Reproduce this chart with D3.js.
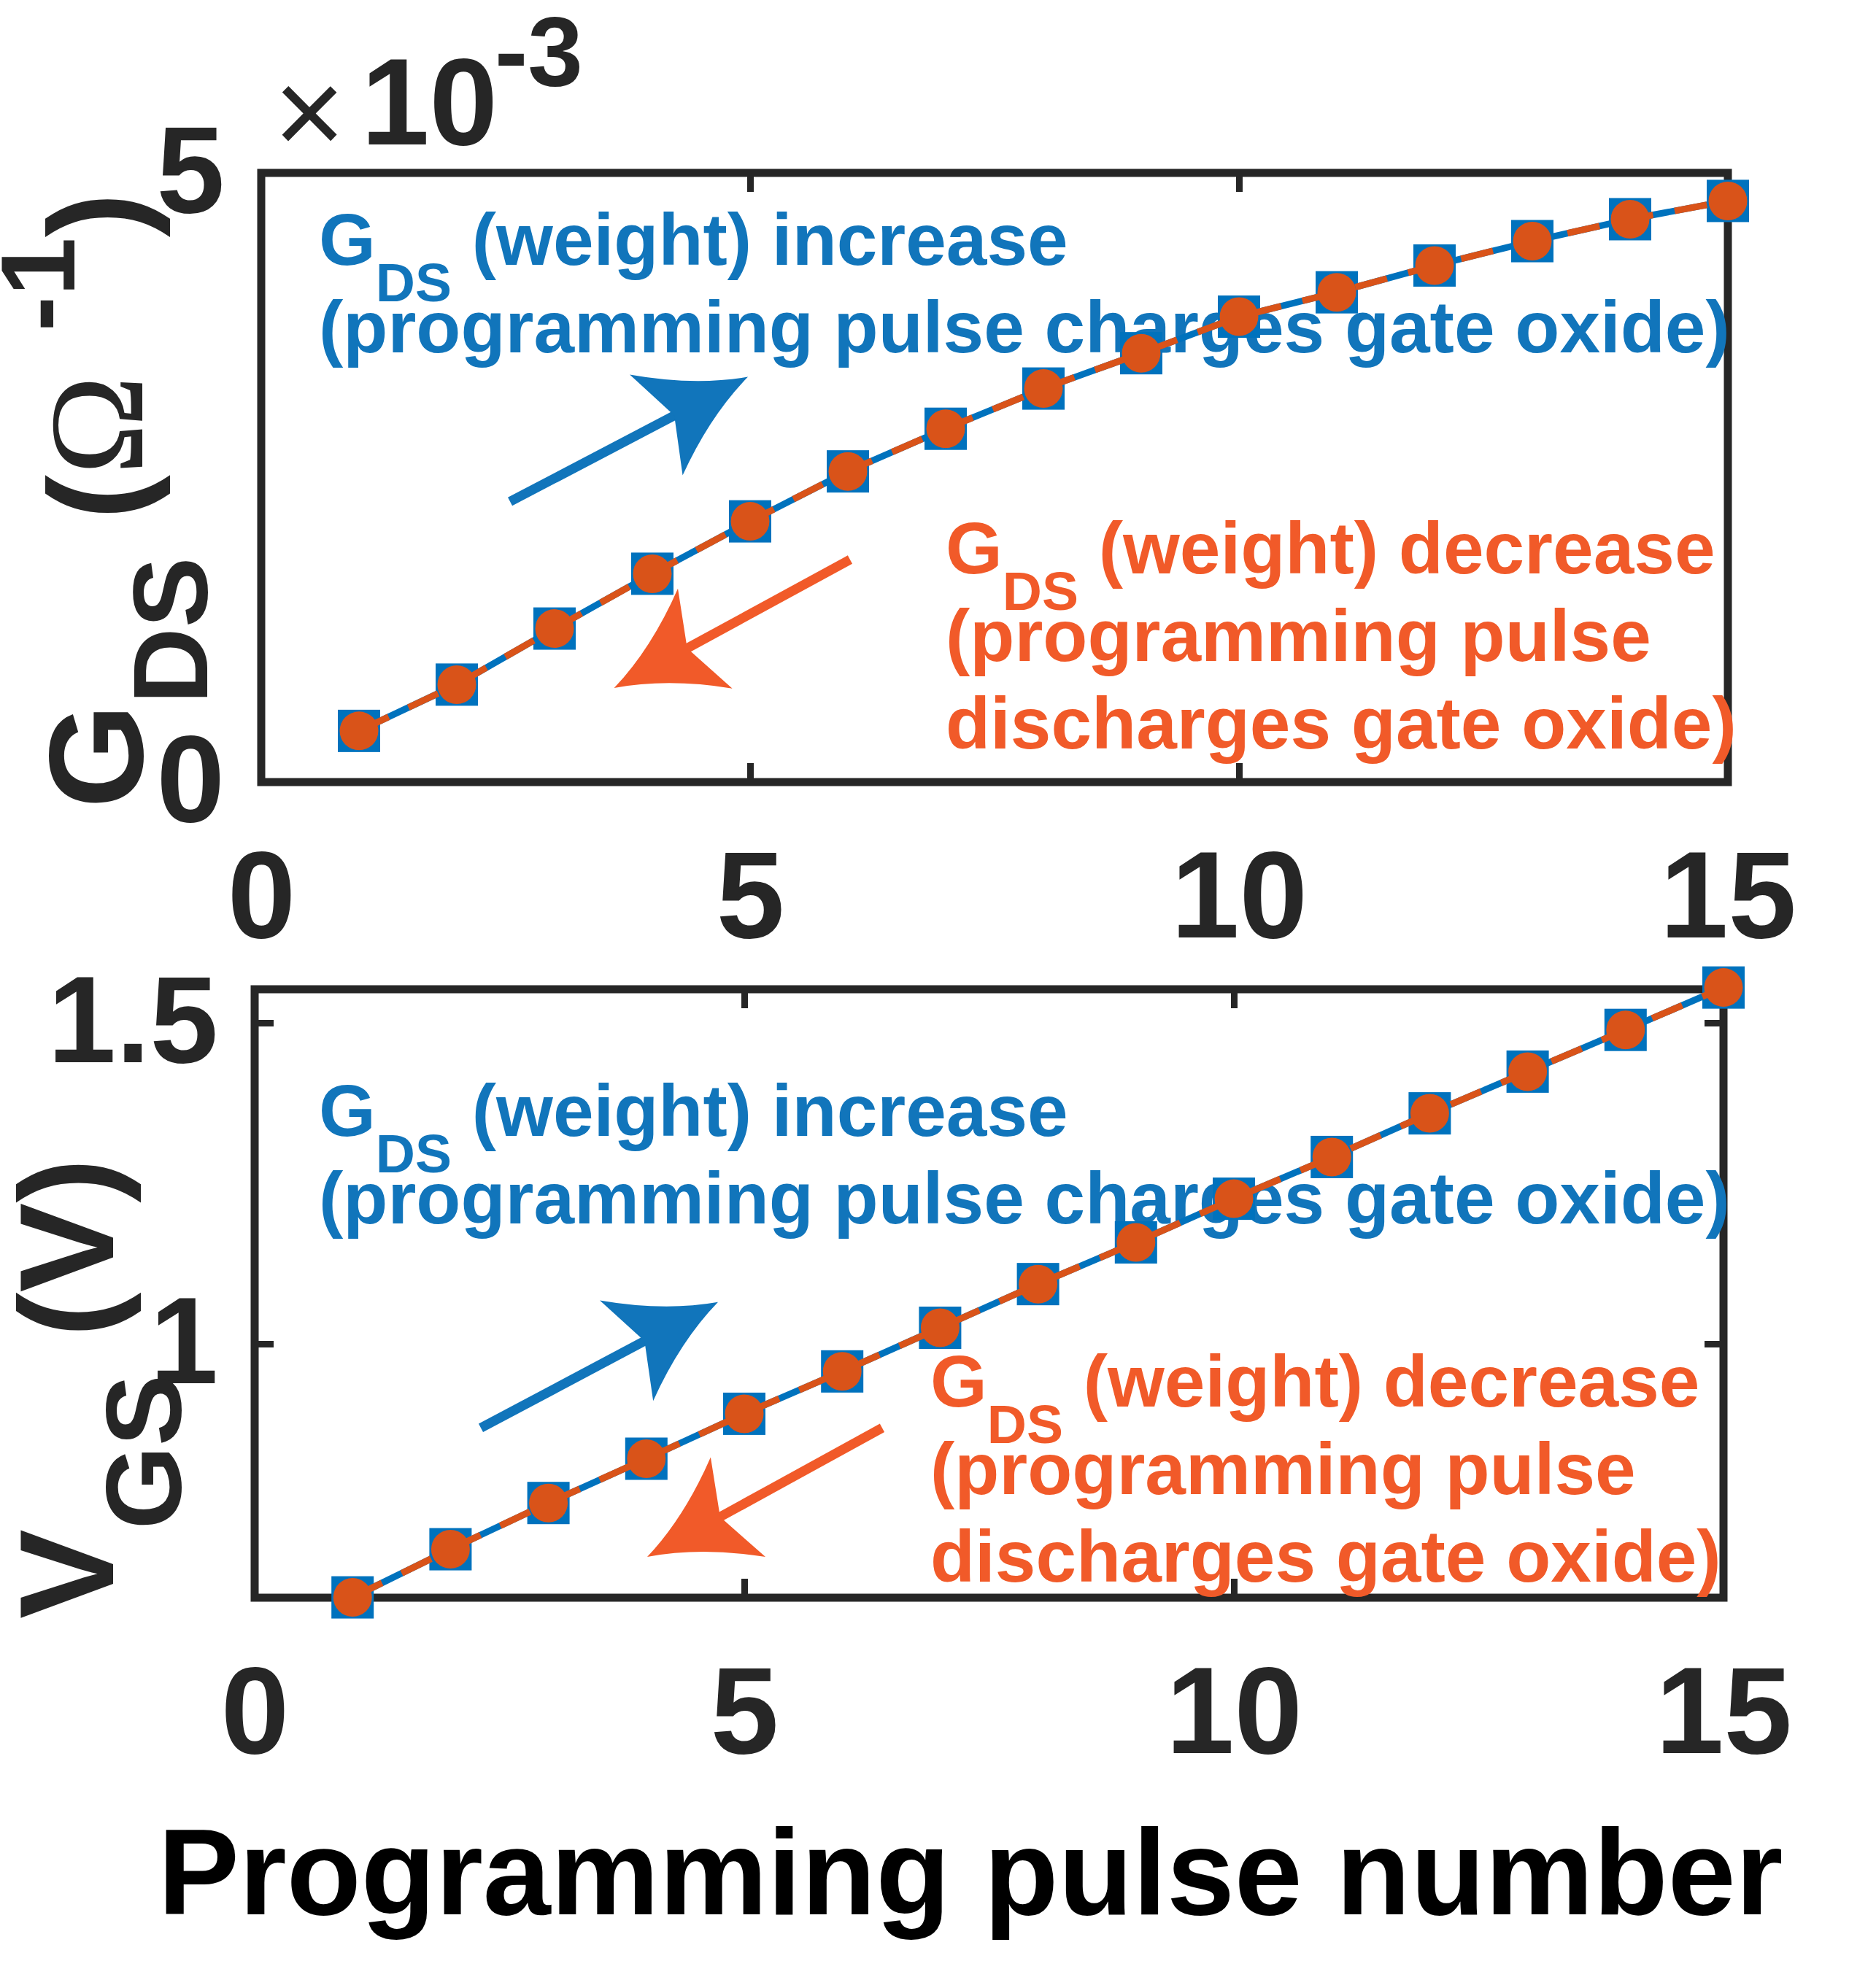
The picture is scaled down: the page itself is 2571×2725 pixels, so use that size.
<!DOCTYPE html>
<html>
<head>
<meta charset="utf-8">
<script src="https://cdn.jsdelivr.net/npm/d3@7"></script>
<style>
  body { margin: 0; background: #fff; }
  text { font-family: "Liberation Sans", Arial, sans-serif; white-space: pre; }
</style>
</head>
<body>
<svg id="chart"></svg>
<script>
// programming pulse number (x axis)
const pulseNumber = [1, 2, 3, 4, 5, 6, 7, 8, 9, 10, 11, 12, 13, 14, 15];
// G_DS in units of 1e-3 S
const gdsIncrease = [0.42, 0.80, 1.26, 1.71, 2.14, 2.55, 2.90, 3.23, 3.52, 3.82, 4.02, 4.24, 4.44, 4.62, 4.77];
const gdsDecrease = [0.42, 0.80, 1.26, 1.71, 2.14, 2.55, 2.90, 3.23, 3.52, 3.82, 4.02, 4.24, 4.44, 4.62, 4.77];
// V_GS in volts
const vgsIncrease = [0.605, 0.680, 0.752, 0.821, 0.891, 0.957, 1.025, 1.093, 1.158, 1.226, 1.291, 1.359, 1.424, 1.489, 1.555];
const vgsDecrease = [0.605, 0.680, 0.752, 0.821, 0.891, 0.957, 1.025, 1.093, 1.158, 1.226, 1.291, 1.359, 1.424, 1.489, 1.555];

const xTicks = [0, 5, 10, 15];
const gdsTicks = [0, 5];
const vgsTicks = [1, 1.5];

const width = 2571, height = 2725;
const blue = "#0072bd", orange = "#d95319";
const textBlue = "#1175bb", textOrange = "#f15a29";
const ink = "#262626";

const svg = d3.select("#chart").attr("width", width).attr("height", height);
svg.append("rect").attr("width", width).attr("height", height).attr("fill", "#fff");

function styleAxis(sel) {
    sel.select(".domain").remove();
    sel.attr("font-size", 168).attr("font-family", "Liberation Sans, Arial, sans-serif")
       .attr("font-weight", "bold");
    sel.selectAll(".tick line").attr("stroke", ink).attr("stroke-width", 9);
    sel.selectAll(".tick text").attr("fill", ink);
}

function drawArrow(g, x0, y0, x1, y1, color) {
    const dx = x1 - x0, dy = y1 - y0, len = Math.hypot(dx, dy);
    const ux = dx / len, uy = dy / len, nx = -uy, ny = ux;
    const back = 142, half = 78, notch = 114, bend = 16;
    const w1 = [x1 - back * ux + half * nx, y1 - back * uy + half * ny];
    const w2 = [x1 - back * ux - half * nx, y1 - back * uy - half * ny];
    const nt = [x1 - notch * ux, y1 - notch * uy];
    const c1 = [x1 - back / 2 * ux + (half / 2 - bend) * nx, y1 - back / 2 * uy + (half / 2 - bend) * ny];
    const c2 = [x1 - back / 2 * ux - (half / 2 - bend) * nx, y1 - back / 2 * uy - (half / 2 - bend) * ny];
    g.append("line")
        .attr("x1", x0).attr("y1", y0).attr("x2", nt[0] + 4 * ux).attr("y2", nt[1] + 4 * uy)
        .attr("stroke", color).attr("stroke-width", 13);
    const path = d3.path();
    path.moveTo(x1, y1);
    path.quadraticCurveTo(c1[0], c1[1], w1[0], w1[1]);
    path.lineTo(nt[0], nt[1]);
    path.lineTo(w2[0], w2[1]);
    path.quadraticCurveTo(c2[0], c2[1], x1, y1);
    path.closePath();
    g.append("path").attr("d", path.toString()).attr("fill", color);
}

function drawNote(g, px, py, color, first, rest) {
    const t = g.append("text").attr("fill", color).attr("font-size", 100).attr("font-weight", "bold");
    t.append("tspan").attr("x", px).attr("y", py).text("G");
    t.append("tspan").attr("font-size", 75).attr("dy", 50).text("DS");
    t.append("tspan").attr("dy", -50).text(" " + first);
    rest.forEach((s, i) => {
        g.append("text").attr("fill", color).attr("font-size", 100).attr("font-weight", "bold")
            .attr("x", px).attr("y", py + 120 * (i + 1)).text(s);
    });
}

function drawPanel(p) {
    const x = d3.scaleLinear().domain([0, 15]).range([p.left, p.right]);
    const y = d3.scaleLinear().domain(p.yDomain).range([p.bottom, p.top]);
    const g = svg.append("g");
    const tick = 26;

    g.append("g").attr("transform", `translate(0,${p.bottom})`)
        .call(d3.axisBottom(x).tickValues(xTicks).tickSize(-tick).tickSizeOuter(0).tickPadding(94).tickFormat(d => String(d)))
        .call(styleAxis);
    g.append("g").attr("transform", `translate(0,${p.top})`)
        .call(d3.axisTop(x).tickValues(xTicks).tickSize(-tick).tickSizeOuter(0).tickFormat(""))
        .call(styleAxis);
    g.append("g").attr("transform", `translate(${p.left},0)`)
        .call(d3.axisLeft(y).tickValues(p.yTicks).tickSize(-tick).tickSizeOuter(0).tickPadding(50).tickFormat(p.yFormat))
        .call(styleAxis);
    g.append("g").attr("transform", `translate(${p.right},0)`)
        .call(d3.axisRight(y).tickValues(p.yTicks).tickSize(-tick).tickSizeOuter(0).tickFormat(""))
        .call(styleAxis);

    g.append("rect")
        .attr("x", p.left).attr("y", p.top)
        .attr("width", p.right - p.left).attr("height", p.bottom - p.top)
        .attr("fill", "none").attr("stroke", ink).attr("stroke-width", 11);

    // annotations
    drawNote(g, x(p.noteUp.x), y(p.noteUp.y), textBlue, "(weight) increase", p.noteUp.rest);
    drawNote(g, x(p.noteDown.x), y(p.noteDown.y), textOrange, "(weight) decrease", p.noteDown.rest);
    drawArrow(g, x(p.arrowUp[0]), y(p.arrowUp[1]), x(p.arrowUp[2]), y(p.arrowUp[3]), textBlue);
    drawArrow(g, x(p.arrowDown[0]), y(p.arrowDown[1]), x(p.arrowDown[2]), y(p.arrowDown[3]), textOrange);

    const line = d3.line().x((d, i) => x(pulseNumber[i])).y(d => y(d));

    g.append("path").datum(p.up)
        .attr("d", line).attr("fill", "none").attr("stroke", blue).attr("stroke-width", 9);
    g.selectAll(null).data(p.up).enter().append("rect")
        .attr("x", (d, i) => x(pulseNumber[i]) - 29).attr("y", d => y(d) - 29)
        .attr("width", 58).attr("height", 58).attr("fill", blue);

    g.append("path").datum(p.down)
        .attr("d", line).attr("fill", "none").attr("stroke", orange).attr("stroke-width", 9)
        .attr("stroke-dasharray", "45,30");
    g.selectAll(null).data(p.down).enter().append("circle")
        .attr("cx", (d, i) => x(pulseNumber[i])).attr("cy", d => y(d))
        .attr("r", 26.5).attr("fill", orange);
}

function rotatedLabel(x0, y0, parts) {
    const t = svg.append("text")
        .attr("transform", `translate(${x0},${y0}) rotate(-90)`)
        .attr("fill", ink).attr("font-weight", "bold");
    parts.forEach(pt => {
        const s = t.append("tspan").attr("font-size", pt.size).attr("dy", pt.dy || 0).text(pt.text);
        if (pt.serif) s.attr("font-family", "Liberation Serif, Times New Roman, serif").attr("font-weight", "normal");
        if (pt.dx) s.attr("dx", pt.dx);
    });
}

drawPanel({
    left: 358, right: 2368, top: 237, bottom: 1072,
    yDomain: [0, 5], yTicks: gdsTicks, yFormat: d => String(d),
    up: gdsIncrease, down: gdsDecrease,
    noteUp: { x: 0.59, y: 4.246, rest: ["(programming pulse charges gate oxide)"] },
    noteDown: { x: 7.0, y: 1.713, rest: ["(programming pulse", "discharges gate oxide)"] },
    arrowUp: [2.545, 2.302, 4.978, 3.326],
    arrowDown: [6.022, 1.826, 3.609, 0.772]
});

drawPanel({
    left: 349, right: 2362, top: 1356, bottom: 2190,
    yDomain: [0.6045, 1.5523], yTicks: vgsTicks, yFormat: d => String(d),
    up: vgsIncrease, down: vgsDecrease,
    noteUp: { x: 0.656, y: 1.324, rest: ["(programming pulse charges gate oxide)"] },
    noteDown: { x: 6.9, y: 0.902, rest: ["(programming pulse", "discharges gate oxide)"] },
    arrowUp: [2.31, 0.869, 4.732, 1.065],
    arrowDown: [6.408, 0.869, 4.009, 0.668]
});

// exponent label of the top panel
svg.append("text").attr("x", 424).attr("y", 212).attr("text-anchor", "middle")
    .attr("font-size", 168).attr("fill", ink).text("\u00d7");
const expo = svg.append("text").attr("y", 198).attr("fill", ink).attr("font-weight", "bold");
expo.append("tspan").attr("x", 495).attr("font-size", 168).text("10");
expo.append("tspan").attr("x", 678).attr("dy", -81).attr("font-size", 136).text("-3");

// y labels
rotatedLabel(195, 1108, [
    { text: "G", size: 184 },
    { text: "DS", size: 145, dy: 89 },
    { text: " (", size: 184, dy: -89 },
    { text: "\u03a9", size: 184, serif: true },
    { text: "-1", size: 145, dy: -93, dx: 60 },
    { text: ")", size: 184, dy: 93 }
]);
rotatedLabel(155, 2219, [
    { text: "V", size: 184 },
    { text: "GS", size: 147, dy: 93 },
    { text: " (V)", size: 184, dy: -93 }
]);

// x label
svg.append("text").attr("x", 1330).attr("y", 2624).attr("text-anchor", "middle")
    .attr("font-size", 167).attr("font-weight", "bold").attr("fill", "#000")
    .text("Programming pulse number");
</script>
</body>
</html>
